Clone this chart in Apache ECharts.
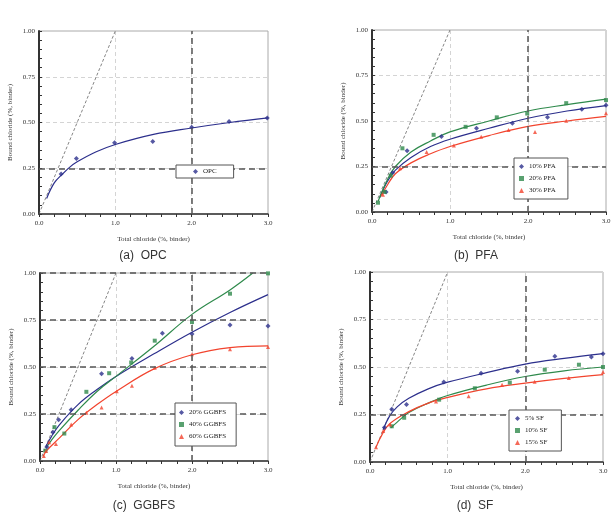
<!DOCTYPE html>
<html>
<head>
<meta charset="utf-8">
<script src="https://cdn.jsdelivr.net/npm/echarts@6/dist/echarts.min.js"></script>
<style>
  html, body { margin: 0; padding: 0; background: #fff; }
  #chart { width: 615px; height: 516px; }
</style>
</head>
<body>
<div id="chart"></div>
<script>
// tick labels
const xTicks = ['0.0', '1.0', '2.0', '3.0'];
const yTicks = ['0.00', '0.25', '0.50', '0.75', '1.00'];
const captions = ['(a)  OPC', '(b)  PFA', '(c)  GGBFS', '(d)  SF'];

// (a) OPC
const opcPts = [[0.29, 0.218], [0.49, 0.303], [0.99, 0.39], [1.49, 0.396], [2.0, 0.474], [2.49, 0.506], [2.99, 0.524]];
const opcFit = [[0.1, 0.085], [0.2, 0.17], [0.3, 0.215], [0.4, 0.255], [0.5, 0.285], [0.75, 0.34], [1, 0.38], [1.5, 0.435], [2, 0.47], [2.5, 0.5], [3, 0.525]];

// (b) PFA
const pfa10Pts = [[0.18, 0.11], [0.265, 0.215], [0.45, 0.336], [0.89, 0.415], [1.34, 0.46], [1.8, 0.488], [2.25, 0.52], [2.69, 0.565], [3.0, 0.587]];
const pfa20Pts = [[0.077, 0.051], [0.16, 0.11], [0.24, 0.2], [0.39, 0.35], [0.79, 0.424], [1.2, 0.468], [1.6, 0.52], [1.99, 0.541], [2.49, 0.598], [3.0, 0.615]];
const pfa30Pts = [[0.14, 0.095], [0.36, 0.241], [0.7, 0.329], [1.05, 0.366], [1.4, 0.413], [1.75, 0.45], [2.09, 0.439], [2.49, 0.501], [3.0, 0.543]];
const pfa10Fit = [[0.1, 0.08], [0.2, 0.17], [0.3, 0.23], [0.5, 0.3], [0.75, 0.36], [1, 0.4], [1.5, 0.46], [2, 0.515], [2.5, 0.555], [3, 0.585]];
const pfa20Fit = [[0.08, 0.06], [0.2, 0.18], [0.3, 0.25], [0.5, 0.33], [0.75, 0.39], [1, 0.44], [1.5, 0.5], [2, 0.555], [2.5, 0.59], [3, 0.62]];
const pfa30Fit = [[0.12, 0.09], [0.2, 0.15], [0.3, 0.21], [0.5, 0.27], [0.75, 0.32], [1, 0.36], [1.5, 0.42], [2, 0.47], [2.5, 0.5], [3, 0.525]];

// (c) GGBFS
const gg20Pts = [[0.09, 0.075], [0.17, 0.153], [0.245, 0.22], [0.41, 0.272], [0.81, 0.464], [1.21, 0.545], [1.61, 0.68], [2.0, 0.675], [2.5, 0.723], [3.0, 0.718]];
const gg40Pts = [[0.07, 0.055], [0.19, 0.18], [0.32, 0.146], [0.61, 0.368], [0.91, 0.467], [1.2, 0.524], [1.51, 0.64], [2.0, 0.739], [2.5, 0.89], [3.0, 0.998]];
const gg60Pts = [[0.05, 0.027], [0.08, 0.053], [0.12, 0.1], [0.21, 0.09], [0.41, 0.194], [0.61, 0.256], [0.81, 0.284], [1.01, 0.371], [1.21, 0.4], [1.51, 0.496], [2.0, 0.568], [2.5, 0.595], [3.0, 0.607]];
const gg20Fit = [[0.08, 0.08], [0.15, 0.13], [0.25, 0.19], [0.5, 0.3], [0.75, 0.38], [1, 0.45], [1.5, 0.57], [2, 0.685], [2.5, 0.79], [3, 0.885]];
const gg40Fit = [[0.08, 0.07], [0.15, 0.11], [0.25, 0.16], [0.5, 0.27], [0.75, 0.37], [1, 0.45], [1.5, 0.61], [2, 0.78], [2.5, 0.91], [2.8, 1.0]];
const gg60Fit = [[0.04, 0.025], [0.1, 0.06], [0.25, 0.12], [0.5, 0.22], [0.75, 0.3], [1, 0.37], [1.5, 0.49], [2, 0.565], [2.5, 0.603], [3, 0.612]];

// (d) SF
const sf5Pts = [[0.185, 0.182], [0.28, 0.277], [0.47, 0.303], [0.95, 0.421], [1.43, 0.467], [1.9, 0.477], [2.38, 0.556], [2.85, 0.553], [3.0, 0.57]];
const sf10Pts = [[0.28, 0.188], [0.44, 0.233], [0.89, 0.328], [1.35, 0.388], [1.8, 0.418], [2.25, 0.486], [2.69, 0.512], [3.0, 0.5]];
const sf15Pts = [[0.077, 0.077], [0.17, 0.163], [0.26, 0.198], [0.85, 0.318], [1.27, 0.346], [1.7, 0.407], [2.12, 0.423], [2.56, 0.442], [3.0, 0.474]];
const sf5Fit = [[0.17, 0.17], [0.25, 0.24], [0.35, 0.29], [0.5, 0.335], [0.75, 0.385], [1, 0.42], [1.5, 0.47], [2, 0.515], [2.5, 0.545], [3, 0.57]];
const sf10Fit = [[0.27, 0.18], [0.35, 0.21], [0.5, 0.26], [0.75, 0.31], [1, 0.35], [1.5, 0.405], [2, 0.45], [2.5, 0.48], [3, 0.5]];
const sf15Fit = [[0.08, 0.08], [0.15, 0.14], [0.25, 0.2], [0.5, 0.265], [0.75, 0.31], [1, 0.34], [1.5, 0.385], [2, 0.415], [2.5, 0.44], [3, 0.46]];

const diagonal = [[0, 0], [1, 1]];

const NAVY = '#2c2f8c';
const GREEN = '#2f8a4c';
const RED = '#f2442e';
const SERIF = '"Liberation Serif", "DejaVu Serif", serif';

const grids = [
  { left: 39, top: 31, width: 229, height: 183 },
  { left: 372, top: 30, width: 234, height: 182 },
  { left: 40, top: 273, width: 228, height: 188 },
  { left: 370, top: 272, width: 233, height: 190 }
];
const captionPos = [[138, 245], [471, 245], [139, 495], [470, 495]];

function makeX(i) {
  return {
    type: 'value', gridIndex: i, min: 0, max: 3, interval: 1,
    name: 'Total chloride (%, binder)', nameLocation: 'middle', nameGap: 22,
    nameTextStyle: { fontFamily: SERIF, fontSize: 7, color: '#333' },
    axisLine: { lineStyle: { color: '#333', width: 1.5 } },
    axisTick: { inside: false, length: 3, lineStyle: { color: '#333' } },
    minorTick: { show: true, splitNumber: 5, length: 3, lineStyle: { color: '#333' } },
    axisLabel: { fontFamily: SERIF, fontSize: 7, color: '#333', margin: 6,
      formatter: v => xTicks[Math.round(v)] },
    splitLine: { show: true, lineStyle: { color: '#d4d4d4', type: [4, 3] } }
  };
}
function makeY(i) {
  return {
    type: 'value', gridIndex: i, min: 0, max: 1, interval: 0.25,
    name: 'Bound chloride (%, binder)', nameLocation: 'middle', nameGap: 25,
    nameTextStyle: { fontFamily: SERIF, fontSize: 7, color: '#333' },
    axisLine: { lineStyle: { color: '#333', width: 2 } },
    axisTick: { inside: true, length: 3, lineStyle: { color: '#333' } },
    minorTick: { show: true, splitNumber: 5, length: 3, lineStyle: { color: '#333' } },
    axisLabel: { fontFamily: SERIF, fontSize: 7, color: '#333', margin: 4,
      formatter: v => yTicks[Math.round(v * 4)] },
    splitLine: { show: true, lineStyle: { color: '#d4d4d4', type: [4, 3] } }
  };
}

function pts(name, data, i, color, symbol) {
  return { name: name, type: 'scatter', xAxisIndex: i, yAxisIndex: i, data: data,
    symbol: symbol, symbolSize: symbol === 'diamond' ? 5 : 4,
    itemStyle: { color: color }, z: 4 };
}
function fit(data, i, color) {
  return { type: 'line', xAxisIndex: i, yAxisIndex: i, data: data, smooth: 0.4,
    symbol: 'none', lineStyle: { color: color, width: 1.2 }, z: 3 };
}
function diag(i, marks) {
  return { type: 'line', xAxisIndex: i, yAxisIndex: i, data: diagonal, symbol: 'none',
    lineStyle: { color: '#666', width: 0.8, type: [3, 2] }, z: 2,
    markLine: { silent: true, symbol: 'none', label: { show: false },
      lineStyle: { color: '#555', width: 1.5, type: [6, 4] }, data: marks } };
}
function legend(names, left, top, pad) {
  return { data: names, orient: 'vertical', left: left, top: top, padding: pad,
    itemGap: 5, itemWidth: 5, itemHeight: 5, backgroundColor: '#fff',
    borderColor: '#555', borderWidth: 1, borderRadius: 0, zlevel: 1, z: 10,
    textStyle: { fontFamily: SERIF, fontSize: 7, color: '#222' } };
}

const chart = echarts.init(document.getElementById('chart'), null, { renderer: 'canvas' });
chart.setOption({
  backgroundColor: '#fff',
  animation: false,
  grid: grids.map(g => Object.assign({ show: true, borderColor: '#aaa', borderWidth: 1 }, g)),
  xAxis: [0, 1, 2, 3].map(makeX),
  yAxis: [0, 1, 2, 3].map(makeY),
  title: captions.map((c, i) => ({
    text: c, left: captionPos[i][0], top: captionPos[i][1], textAlign: 'center',
    textStyle: { fontFamily: '"Liberation Sans", Arial, sans-serif', fontSize: 12, fontWeight: 'normal', color: '#333' }
  })),
  legend: [
    legend(['OPC'], 176, 165, [3, 17, 3, 17]),
    legend(['10% PFA', '20% PFA', '30% PFA'], 514, 158, [5, 12, 5, 5]),
    legend(['20% GGBFS', '40% GGBFS', '60% GGBFS'], 175, 403, [6, 10, 6, 4]),
    legend(['5% SF', '10% SF', '15% SF'], 509, 410, [5, 14, 5, 6])
  ],
  series: [
    diag(0, [{ xAxis: 2 }, { yAxis: 0.25 }]),
    fit(opcFit, 0, NAVY),
    pts('OPC', opcPts, 0, NAVY, 'diamond'),

    diag(1, [{ xAxis: 2 }, { yAxis: 0.25 }]),
    fit(pfa10Fit, 1, NAVY),
    fit(pfa20Fit, 1, GREEN),
    fit(pfa30Fit, 1, RED),
    pts('10% PFA', pfa10Pts, 1, NAVY, 'diamond'),
    pts('20% PFA', pfa20Pts, 1, GREEN, 'rect'),
    pts('30% PFA', pfa30Pts, 1, RED, 'triangle'),

    diag(2, [{ xAxis: 2 }, { yAxis: 0.25 }, { yAxis: 0.5 }, { yAxis: 0.75 }, { yAxis: 1 }]),
    fit(gg20Fit, 2, NAVY),
    fit(gg40Fit, 2, GREEN),
    fit(gg60Fit, 2, RED),
    pts('20% GGBFS', gg20Pts, 2, NAVY, 'diamond'),
    pts('40% GGBFS', gg40Pts, 2, GREEN, 'rect'),
    pts('60% GGBFS', gg60Pts, 2, RED, 'triangle'),

    diag(3, [{ xAxis: 2 }, { yAxis: 0.25 }]),
    fit(sf5Fit, 3, NAVY),
    fit(sf10Fit, 3, GREEN),
    fit(sf15Fit, 3, RED),
    pts('5% SF', sf5Pts, 3, NAVY, 'diamond'),
    pts('10% SF', sf10Pts, 3, GREEN, 'rect'),
    pts('15% SF', sf15Pts, 3, RED, 'triangle')
  ]
});
</script>
</body>
</html>
